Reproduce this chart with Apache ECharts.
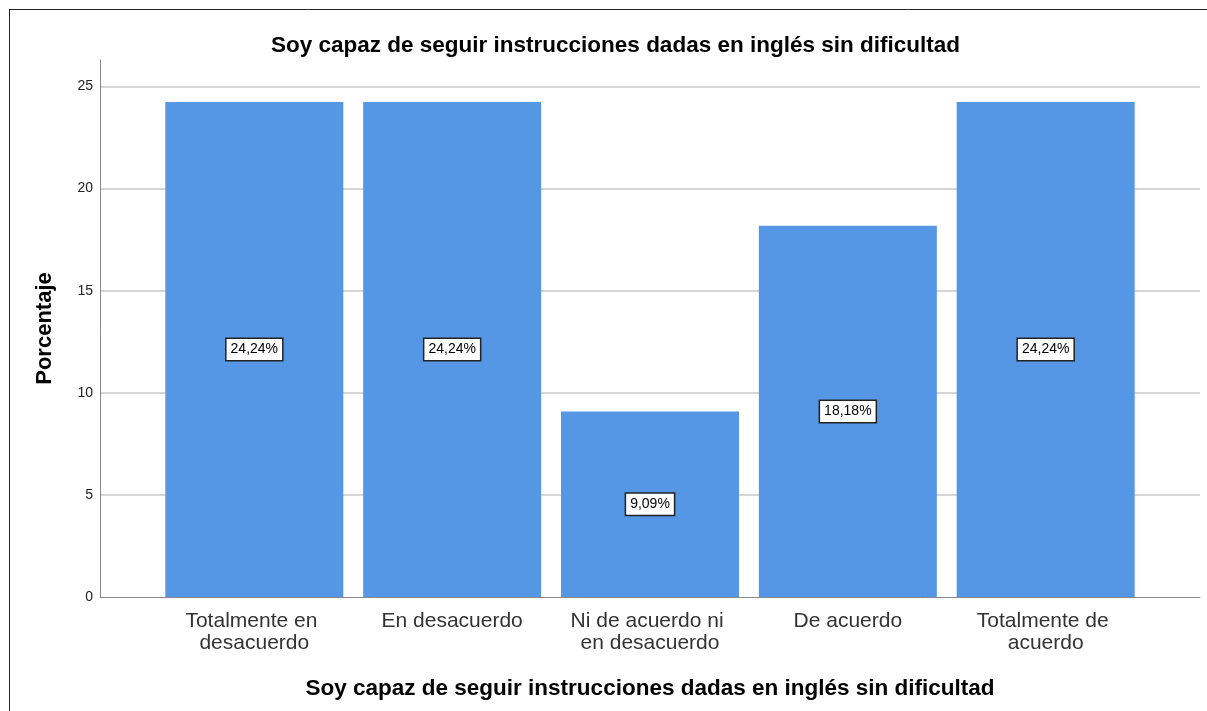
<!DOCTYPE html>
<html>
<head>
<meta charset="utf-8">
<script src="https://cdn.jsdelivr.net/npm/echarts@6/dist/echarts.min.js"></script>
<style>
  html, body { margin: 0; padding: 0; background: #fff; }
  #chart { width: 1207px; height: 711px; }
</style>
</head>
<body>
<div id="chart"></div>
<script>
  // categorias y porcentajes
  var categories = ['Totalmente en desacuerdo', 'En desacuerdo', 'Ni de acuerdo ni en desacuerdo', 'De acuerdo', 'Totalmente de acuerdo']
  var percentages = [24.24, 24.24, 9.09, 18.18, 24.24]
  var yTicks = [0, 5, 10, 15, 20, 25]
  var chartTitle = 'Soy capaz de seguir instrucciones dadas en inglés sin dificultad'

  var font = 'Liberation Sans, Arial, sans-serif'
  var positions = categories.map(function (c, i) { return i })
  var data = []
  for (var i = 0; i < categories.length; i++) {
    data.push([i, percentages[i]])
  }

  var myChart = echarts.init(document.getElementById('chart'))
  var option = {
    backgroundColor: '#fff',
    textStyle: {fontFamily: font},
    title: {
      text: chartTitle,
      left: 266,
      top: 29,
      textStyle: {fontSize: 22.5, fontWeight: 'bold', color: '#000', fontFamily: font}
    },
    graphic: [
      {type: 'line', shape: {x1: 9, y1: 9.5, x2: 1207, y2: 9.5}, style: {stroke: '#222', lineWidth: 1}},
      {type: 'line', shape: {x1: 9.5, y1: 9, x2: 9.5, y2: 711}, style: {stroke: '#222', lineWidth: 1}}
    ],
    grid: {left: 100, right: 7, top: 60, bottom: 114},
    xAxis: {
      type: 'value',
      min: -0.78,
      max: 4.78,
      name: chartTitle,
      nameLocation: 'middle',
      nameGap: 80,
      nameTextStyle: {fontSize: 22.5, fontWeight: 'bold', color: '#000', fontFamily: font},
      axisLine: {show: true, lineStyle: {color: '#888', width: 1}},
      axisTick: {show: false},
      splitLine: {show: false},
      axisLabel: {
        customValues: positions,
        formatter: function (v) { return categories[Math.round(v)] },
        fontSize: 21,
        color: '#333',
        lineHeight: 22,
        margin: 13,
        width: 165,
        overflow: 'break',
        align: 'center'
      }
    },
    yAxis: {
      type: 'value',
      min: 0,
      max: 26.3,
      interval: 5,
      name: 'Porcentaje',
      nameLocation: 'middle',
      nameGap: 44,
      nameTextStyle: {fontSize: 22, fontWeight: 'bold', color: '#000', fontFamily: font},
      axisLine: {show: true, onZero: false, lineStyle: {color: '#888', width: 1}},
      axisTick: {show: false},
      axisLabel: {customValues: yTicks, fontSize: 14, color: '#222', margin: 7},
      splitLine: {show: true, showMinLine: false, showMaxLine: false, lineStyle: {color: '#d6d6d6', width: 2}}
    },
    series: [{
      type: 'bar',
      data: data,
      barWidth: 178,
      itemStyle: {color: '#5596e5'},
      label: {
        show: true,
        position: 'inside',
        formatter: function (p) { return p.value[1].toFixed(2).replace('.', ',') + '%' },
        fontSize: 14,
        color: '#000',
        backgroundColor: '#fff',
        borderColor: '#222',
        borderWidth: 1.5,
        padding: [4, 4, 3, 4]
      }
    }]
  }
  myChart.setOption(option, true)
</script>
</body>
</html>
